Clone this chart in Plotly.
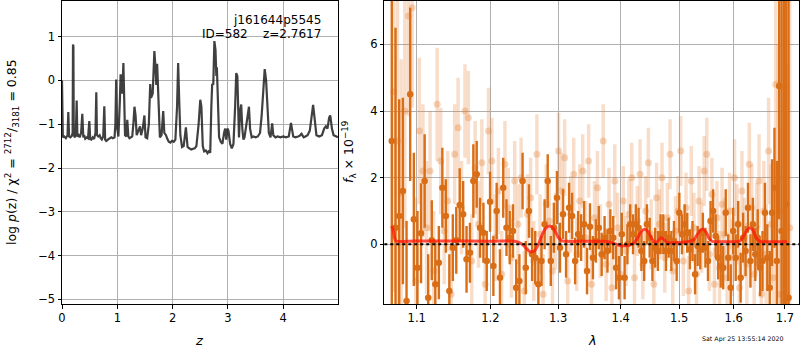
import plotly.graph_objects as go

# ---------------- data: left panel, log p(z) ----------------
z_grid = [0.000, 0.008, 0.015, 0.04, 0.07, 0.10, 0.114, 0.128, 0.15, 0.175, 0.192, 0.199, 0.206, 0.213,
          0.235, 0.250, 0.265, 0.278, 0.30, 0.32, 0.345, 0.367, 0.385, 0.40, 0.42, 0.445, 0.47, 0.494,
          0.51, 0.53, 0.555, 0.58, 0.605, 0.620, 0.632, 0.655, 0.68, 0.70, 0.72, 0.745, 0.765, 0.78,
          0.80, 0.83, 0.86, 0.89, 0.92, 0.95, 0.965, 0.98, 0.995, 1.02, 1.045, 1.06, 1.075, 1.09, 1.11,
          1.125, 1.14, 1.165, 1.18, 1.20, 1.22, 1.245, 1.27, 1.29, 1.31, 1.33, 1.35, 1.38, 1.41, 1.43,
          1.46, 1.49, 1.51, 1.54, 1.57, 1.595, 1.61, 1.64, 1.67, 1.69, 1.705, 1.72, 1.735, 1.75, 1.77,
          1.80, 1.83, 1.85, 1.88, 1.90, 1.93, 1.96, 1.99, 2.02, 2.05, 2.08, 2.10, 2.12, 2.14, 2.17, 2.20,
          2.24, 2.27, 2.30, 2.34, 2.37, 2.40, 2.43, 2.47, 2.50, 2.52, 2.545, 2.57, 2.60, 2.63, 2.65, 2.68,
          2.70, 2.715, 2.735, 2.755, 2.775, 2.79, 2.80, 2.82, 2.84, 2.87, 2.90, 2.93, 2.95, 2.97, 2.99,
          3.01, 3.04, 3.07, 3.10, 3.13, 3.15, 3.17, 3.19, 3.20, 3.22, 3.24, 3.26, 3.28, 3.30, 3.32, 3.35,
          3.38, 3.40, 3.43, 3.46, 3.50, 3.54, 3.58, 3.61, 3.64, 3.665, 3.69, 3.71, 3.74, 3.77, 3.80, 3.82,
          3.86, 3.90, 3.95, 4.00, 4.05, 4.10, 4.14, 4.18, 4.22, 4.27, 4.30, 4.33, 4.37, 4.40, 4.44, 4.48,
          4.51, 4.54, 4.57, 4.60, 4.65, 4.70, 4.74, 4.77, 4.80, 4.83, 4.85, 4.88, 4.91, 4.95, 4.99]
logp = [0.00, -1.10, -1.30, -1.28, -1.32, -1.25, -0.72, -1.28, -1.30, -1.27, -1.20, 0.82, 0.78, -1.25,
        -1.30, -1.22, -0.46, -1.28, -1.25, -1.30, -1.20, -0.76, -1.30, -1.25, -1.33, -1.30, -1.32, -0.93,
        -1.34, -1.35, -1.30, -1.34, -1.20, -0.27, -1.25, -1.28, -1.25, -1.32, -1.35, -1.28, -0.59, -1.35,
        -1.38, -1.35, -1.32, -1.30, -1.32, -1.30, -1.00, 0.02, -1.05, -1.28, -0.50, 0.14, -0.20, -0.30, 0.40,
        -0.70, -1.25, -1.28, -0.90, -1.28, -1.32, -1.30, -1.28, -1.00, -0.60, -0.80, -1.25, -1.15, -1.05, -1.25,
        -1.10, -0.80, -1.30, -1.32, -1.00, -0.08, -0.40, -0.30, 0.67, 0.30, -0.10, 0.38, -0.20, -0.90, -1.30,
        -1.25, -0.70, -1.20, -1.25, -1.32, -1.40, -1.42, -1.38, -1.40, -1.35, -0.60, 0.40, -0.50, -1.25, -1.52, -1.50,
        -1.07, -1.52, -1.55, -1.58, -1.56, -1.55, -1.50, -1.00, -0.44, -0.60, -1.50, -1.62, -1.60, -1.66, -1.62, -1.65,
        -0.60, -0.08, -0.10, 0.90, 0.70, 0.10, 0.30, -0.60, -1.30, -1.40, -1.45, -1.20, -1.10, -1.35, -1.10,
        -1.15, -1.45, -1.55, -1.45, -0.60, 0.17, 0.10, -1.00, -1.30, -0.70, -0.55, -1.10, -1.35, -1.30, -1.10, -0.80,
        -0.60, -1.10, -1.30, -1.28, -1.30, -1.28, -1.20, -0.80, -0.10, 0.26, 0.00, -0.60, -1.20, -1.30, -0.98, -1.25,
        -1.30, -1.28, -1.30, -1.28, -1.30, -1.28, -0.97, -1.28, -1.30, -1.28, -1.26, -1.22, -1.30, -1.28, -1.25, -1.15,
        -0.80, -0.56, -0.90, -1.25, -1.28, -1.25, -1.10, -1.05, -1.10, -0.85, -0.80, -1.10, -1.25, -1.28, -1.30]

# ---------------- data: right panel, spectrum ----------------
lam_dark = [1.0680, 1.0727, 1.0774, 1.0821, 1.0868, 1.0915, 1.0962, 1.1009, 1.1056, 1.1103,
            1.1150, 1.1197, 1.1244, 1.1291, 1.1338, 1.1385, 1.1432, 1.1479, 1.1526, 1.1573,
            1.1620, 1.1667, 1.1714, 1.1761, 1.1808, 1.1855, 1.1902, 1.1949, 1.1996, 1.2043,
            1.2090, 1.2137, 1.2184, 1.2231, 1.2278, 1.2325, 1.2372, 1.2419, 1.2466, 1.2513,
            1.2560, 1.2607, 1.2654, 1.2701, 1.2748, 1.2795, 1.2842, 1.2889, 1.2936, 1.2983,
            1.3030, 1.3077, 1.3124, 1.3171, 1.3218, 1.3265, 1.3312, 1.3359, 1.3406, 1.3453,
            1.3500, 1.3547, 1.3594, 1.3641, 1.3688, 1.3735, 1.3782, 1.3829, 1.3876, 1.3923,
            1.3970, 1.4017, 1.4064, 1.4111, 1.4158, 1.4205, 1.4252, 1.4299, 1.4346, 1.4393,
            1.4440, 1.4487, 1.4534, 1.4581, 1.4628, 1.4675, 1.4722, 1.4769, 1.4816, 1.4863,
            1.4910, 1.4957, 1.5004, 1.5051, 1.5098, 1.5145, 1.5192, 1.5239, 1.5286, 1.5333,
            1.5380, 1.5427, 1.5474, 1.5521, 1.5568, 1.5615, 1.5662, 1.5709, 1.5756, 1.5803,
            1.5850, 1.5897, 1.5944, 1.5991, 1.6038, 1.6085, 1.6132, 1.6179, 1.6226, 1.6273,
            1.6320, 1.6367, 1.6414, 1.6461, 1.6508, 1.6555, 1.6602, 1.6649, 1.6696, 1.6743,
            1.6790, 1.6837, 1.6884, 1.6931, 1.6978, 1.7025, 1.7072]
flux_dark = [3.10, 0.50, 0.85, 1.60, -1.70, 4.50, 0.75, -0.70, 0.33, 1.90,
             -1.60, 0.12, -1.20, -0.55, 1.70, 0.85, -1.40, -0.10, 0.12, 1.18,
             0.90, -0.45, -0.25, 1.90, 2.10, 0.50, 0.35, -0.50, 1.28, -0.65,
             1.00, -1.00, 1.70, 0.50, 0.20, 0.40, -1.30, -1.10, 1.90, -0.70,
             1.00, -0.30, -0.40, -1.20, -0.50, 0.60, 1.90, -0.50, 0.50, 1.40,
             -0.10, 0.90, -0.30, 1.10, 0.85, -0.50, 0.30, 0.20, 0.60, -0.80,
             0.53, -0.40, 0.10, 0.50, -0.30, 0.20, -0.20, 0.40, 0.20, -0.70,
             -1.00, 0.30, -1.00, 0.00, 0.60, 0.30, 0.60, 0.50, -0.20, -0.50,
             0.60, 0.20, -0.50, -0.10, -0.20, 0.30, 0.30, -0.20, 0.20, -0.20,
             0.10, -0.50, 0.95, 0.30, 0.60, 0.35, -0.15, 0.10, -0.90, -0.05,
             -0.15, 0.35, -0.10, -0.50, 0.70, 1.00, 0.25, -0.40, -0.65, -0.70,
             0.95, -0.40, -1.30, 0.40, -0.40, 0.60, -1.00, 0.20, -0.20, 1.10,
             -0.50, 0.60, -0.30, 0.20, -0.70, -0.50, 0.95, -0.40, -1.30, 0.95,
             1.70, -0.50, 4.75, 0.40, 0.20, 1.20, -1.60]
err_dark = [7.0, 6.0, 3.5, 2.8, 2.4, 2.6, 2.0, 1.7, 1.5, 1.4,
            1.3, 1.2, 1.3, 1.1, 1.2, 1.1, 1.1, 1.0, 1.0, 1.1,
            1.0, 1.0, 0.9, 1.1, 1.0, 0.9, 0.9, 0.9, 0.9, 0.9,
            0.85, 0.85, 0.9, 0.85, 0.8, 0.8, 0.85, 0.8, 0.85, 0.8,
            0.8, 0.8, 0.8, 0.8, 0.75, 0.75, 0.8, 0.75, 0.75, 0.8,
            0.75, 0.75, 0.7, 0.75, 0.7, 0.7, 0.7, 0.7, 0.7, 0.7,
            0.7, 0.65, 0.65, 0.65, 0.65, 0.65, 0.65, 0.65, 0.65, 0.65,
            0.65, 0.65, 0.65, 0.6, 0.6, 0.6, 0.6, 0.6, 0.6, 0.6,
            0.6, 0.6, 0.6, 0.6, 0.6, 0.6, 0.6, 0.6, 0.6, 0.6,
            0.6, 0.6, 0.6, 0.6, 0.6, 0.6, 0.6, 0.6, 0.6, 0.6,
            0.6, 0.6, 0.6, 0.6, 0.6, 0.65, 0.65, 0.65, 0.65, 0.65,
            0.7, 0.7, 0.7, 0.7, 0.7, 0.7, 0.75, 0.75, 0.75, 0.75,
            0.8, 0.8, 0.8, 0.85, 0.85, 0.9, 0.9, 1.0, 1.1, 1.6,
            1.8, 3.0, 4.0, 7.0, 8.0, 8.0, 9.0]

lam_light = [1.0705, 1.0752, 1.0799, 1.0846, 1.0893, 1.0940, 1.0987, 1.1034, 1.1081, 1.1128,
             1.1175, 1.1222, 1.1269, 1.1316, 1.1363, 1.1410, 1.1457, 1.1504, 1.1551, 1.1598,
             1.1645, 1.1692, 1.1739, 1.1786, 1.1833, 1.1880, 1.1927, 1.1974, 1.2021, 1.2068,
             1.2115, 1.2162, 1.2209, 1.2256, 1.2303, 1.2350, 1.2397, 1.2444, 1.2491, 1.2538,
             1.2585, 1.2632, 1.2679, 1.2726, 1.2773, 1.2820, 1.2867, 1.2914, 1.2961, 1.3008,
             1.3055, 1.3102, 1.3149, 1.3196, 1.3243, 1.3290, 1.3337, 1.3384, 1.3431, 1.3478,
             1.3525, 1.3572, 1.3619, 1.3666, 1.3713, 1.3760, 1.3807, 1.3854, 1.3901, 1.3948,
             1.3995, 1.4042, 1.4089, 1.4136, 1.4183, 1.4230, 1.4277, 1.4324, 1.4371, 1.4418,
             1.4465, 1.4512, 1.4559, 1.4606, 1.4653, 1.4700, 1.4747, 1.4794, 1.4841, 1.4888,
             1.4935, 1.4982, 1.5029, 1.5076, 1.5123, 1.5170, 1.5217, 1.5264, 1.5311, 1.5358,
             1.5405, 1.5452, 1.5499, 1.5546, 1.5593, 1.5640, 1.5687, 1.5734, 1.5781, 1.5828,
             1.5875, 1.5922, 1.5969, 1.6016, 1.6063, 1.6110, 1.6157, 1.6204, 1.6251, 1.6298,
             1.6345, 1.6392, 1.6439, 1.6486, 1.6533, 1.6580, 1.6627, 1.6674, 1.6721, 1.6768,
             1.6815, 1.6862, 1.6909, 1.6956, 1.7003, 1.7050, 1.7097]
flux_light = [4.58, 3.10, 1.55, 4.00, 6.85, 7.10, -1.10, 3.40, 2.20, 0.50,
              2.20, -0.80, 4.20, 2.50, 0.40, 1.30, -1.50, 2.70, 3.50, 1.10,
              4.00, 3.80, -0.50, 2.30, 0.60, 2.45, -1.20, 3.40, 2.50, 0.20,
              1.60, -0.90, 2.40, 1.10, -0.40, 1.90, 0.60, 2.00, -1.40, 0.90,
              1.40, -0.50, 2.70, 0.30, -1.50, 1.20, 0.70, -0.80, 0.40, 2.80,
              1.60, 2.60, -1.10, 0.90, 2.10, -0.30, 1.30, 2.20, 0.20, 2.50,
              -1.20, 0.80, 1.70, 0.10, 3.10, -0.60, 1.20, -1.30, 1.90, 0.50,
              -0.90, 1.30, -0.20, 0.90, 2.00, -1.00, 0.70, 2.10, -0.60, 1.00,
              2.45, 0.30, -1.20, 1.40, 0.60, 2.00, -0.40, 0.80, 2.70, -0.80,
              0.40, 1.00, 2.80, -0.50, 1.10, -1.40, 1.90, 0.50, -0.90, 1.30,
              0.20, 2.20, 2.70, -0.30, 1.50, -1.20, 0.80, -0.70, 1.20, 0.30,
              -1.00, 1.00, -0.40, 2.00, 0.60, -1.30, 1.60, 0.20, -0.60, 2.40,
              1.10, -0.90, 0.50, 1.90, -1.50, 1.00, -0.30, 2.80, 0.60, -1.00,
              4.80, 2.00, -1.50, 1.00, 4.70, -1.60, 0.50]
err_light = [6.0, 5.0, 4.0, 3.5, 3.0, 3.0, 2.5, 2.2, 2.0, 2.0,
             1.8, 1.8, 1.7, 1.6, 1.6, 1.5, 1.5, 1.5, 1.5, 1.4,
             1.4, 1.4, 1.4, 1.4, 1.3, 1.3, 1.3, 1.3, 1.3, 1.3,
             1.3, 1.3, 1.3, 1.2, 1.2, 1.2, 1.2, 1.2, 1.2, 1.2,
             1.2, 1.2, 1.2, 1.2, 1.2, 1.2, 1.2, 1.2, 1.15, 1.15,
             1.15, 1.15, 1.15, 1.15, 1.1, 1.1, 1.1, 1.1, 1.1, 1.1,
             1.1, 1.1, 1.1, 1.1, 1.1, 1.1, 1.1, 1.1, 1.1, 1.05,
             1.05, 1.05, 1.05, 1.05, 1.05, 1.05, 1.05, 1.05, 1.05, 1.05,
             1.05, 1.05, 1.05, 1.05, 1.05, 1.05, 1.05, 1.05, 1.05, 1.05,
             1.05, 1.05, 1.05, 1.05, 1.05, 1.05, 1.05, 1.05, 1.05, 1.05,
             1.05, 1.05, 1.1, 1.1, 1.1, 1.1, 1.1, 1.1, 1.1, 1.1,
             1.15, 1.15, 1.15, 1.15, 1.2, 1.2, 1.2, 1.2, 1.25, 1.25,
             1.3, 1.3, 1.35, 1.4, 1.4, 1.5, 1.5, 1.6, 1.8, 2.0,
             3.0, 4.0, 5.0, 6.0, 6.0, 7.0, 8.0]

lam_model = [1.0680, 1.0700, 1.0720, 1.0735, 1.10, 1.15, 1.20, 1.235, 1.245, 1.252, 1.258, 1.264,
             1.270, 1.276, 1.282, 1.288, 1.294, 1.300, 1.306, 1.312, 1.35, 1.38, 1.39, 1.402, 1.412,
             1.420, 1.427, 1.434, 1.440, 1.446, 1.452, 1.458, 1.463, 1.468, 1.473, 1.479, 1.49, 1.51,
             1.525, 1.532, 1.538, 1.542, 1.548, 1.554, 1.560, 1.57, 1.60, 1.612, 1.619, 1.625, 1.631,
             1.637, 1.643, 1.650, 1.66, 1.68, 1.704]
flux_model = [0.55, 0.40, 0.15, 0.10, 0.10, 0.10, 0.09, 0.09, 0.02, -0.12, -0.22, -0.20,
              0.00, 0.30, 0.50, 0.55, 0.45, 0.22, 0.10, 0.09, 0.09, 0.08, 0.02, -0.05, -0.03,
              0.02, 0.15, 0.38, 0.45, 0.38, 0.18, 0.06, 0.10, 0.20, 0.15, 0.06, 0.05, 0.07,
              0.12, 0.28, 0.42, 0.46, 0.38, 0.18, 0.09, 0.08, 0.08, 0.10, 0.25, 0.42, 0.50,
              0.42, 0.20, 0.09, 0.08, 0.08, 0.08]

z_ticks = [0, 1, 2, 3, 4]
logp_ticks = [-5, -4, -3, -2, -1, 0, 1]
lam_ticks = [1.1, 1.2, 1.3, 1.4, 1.5, 1.6, 1.7]
flux_ticks = [0, 2, 4, 6]

FONT = "DejaVu Sans"
GRID = "#b0b0b0"
DARK = "rgb(217,110,22)"

fig = go.Figure()

fig.add_trace(go.Scatter(x=z_grid, y=logp, mode="lines",
                         line=dict(color="rgba(30,30,30,0.85)", width=2.2),
                         xaxis="x", yaxis="y", showlegend=False, hoverinfo="skip"))

fig.add_trace(go.Scatter(x=lam_light, y=flux_light, mode="markers",
                         marker=dict(color="rgba(228,128,50,0.32)", size=7, line=dict(width=0)),
                         error_y=dict(type="data", array=err_light, visible=True,
                                      color="rgba(228,128,50,0.26)", thickness=3.5, width=0),
                         xaxis="x2", yaxis="y2", showlegend=False, hoverinfo="skip"))

fig.add_trace(go.Scatter(x=lam_dark, y=flux_dark, mode="markers",
                         marker=dict(color=DARK, size=6.5, line=dict(width=0)),
                         error_y=dict(type="data", array=err_dark, visible=True,
                                      color=DARK, thickness=2.4, width=0),
                         xaxis="x2", yaxis="y2", showlegend=False, hoverinfo="skip"))

fig.add_trace(go.Scatter(x=lam_model, y=flux_model, mode="lines", line_shape="spline",
                         line=dict(color="rgba(255,20,10,0.75)", width=3),
                         xaxis="x2", yaxis="y2", showlegend=False, hoverinfo="skip"))

fig.add_shape(type="line", xref="x2 domain", yref="y2", x0=0, x1=1, y0=0, y1=0,
              line=dict(color="black", width=2, dash="dot"))

axis_common = dict(showline=True, linecolor="black", linewidth=1, mirror=True,
                   ticks="outside", ticklen=3.5, tickwidth=0.8, tickcolor="black",
                   showgrid=True, gridcolor=GRID, gridwidth=0.8, zeroline=False,
                   tickfont=dict(family=FONT, size=11.5, color="black"), automargin=False)

fig.update_layout(
    width=800, height=350, margin=dict(l=0, r=0, t=0, b=0),
    paper_bgcolor="white", plot_bgcolor="white",
    font=dict(family=FONT, color="black"),
    xaxis=dict(domain=[62 / 800, 338 / 800], range=[0, 4.99], tickvals=z_ticks,
               anchor="y", **axis_common),
    yaxis=dict(domain=[1 - 304 / 350, 1 - 1 / 350], range=[-5.107, 1.815], tickvals=logp_ticks,
               ticktext=["\u22125", "\u22124", "\u22123", "\u22122", "\u22121", "0", "1"],
               anchor="x", **axis_common),
    xaxis2=dict(domain=[384.3 / 800, 799.3 / 800], type="log", range=[0.02473, 0.2378],
                tickvals=lam_ticks, ticktext=[str(v) for v in lam_ticks], anchor="y2", **axis_common),
    yaxis2=dict(domain=[1 - 304 / 350, 1 - 1 / 350], range=[-1.79, 7.30], tickvals=flux_ticks,
                anchor="x2", **axis_common),
)

ann = [
    dict(text="j161644p5545", x=323 / 800, y=1 - 20 / 350, xanchor="right", yanchor="middle",
         font=dict(size=12, family=FONT)),
    dict(text="ID=582    z=2.7617", x=323 / 800, y=1 - 34 / 350, xanchor="right", yanchor="middle",
         font=dict(size=12, family=FONT)),
    dict(text="<i>z</i>", x=199 / 800, y=1 - 340 / 350, xanchor="center", yanchor="middle",
         font=dict(size=13, family=FONT)),
    dict(text="<i>λ</i>", x=592 / 800, y=1 - 340 / 350, xanchor="center", yanchor="middle",
         font=dict(size=13, family=FONT)),
    dict(text="log <i>p</i>(z) / χ<sup>2</sup> = <sup>2712</sup>/<sub>3181</sub> = 0.85",
         x=12 / 800, y=1 - 152 / 350, xanchor="center", yanchor="middle", textangle=-90,
         font=dict(size=12.5, family=FONT)),
    dict(text="<i>f</i><sub>λ</sub> × 10<sup>−19</sup>", x=349 / 800, y=1 - 152 / 350,
         xanchor="center", yanchor="middle", textangle=-90, font=dict(size=12.5, family=FONT)),
    dict(text="Sat Apr 25 13:55:14 2020", x=743 / 800, y=1 - 339 / 350, xanchor="center",
         yanchor="middle", font=dict(size=6.3, family=FONT)),
]
for a in ann:
    a.update(xref="paper", yref="paper", showarrow=False)
fig.update_layout(annotations=ann)

fig.write_html("out.html", config={"displayModeBar": False},
               post_script="document.body.style.margin='0';")
